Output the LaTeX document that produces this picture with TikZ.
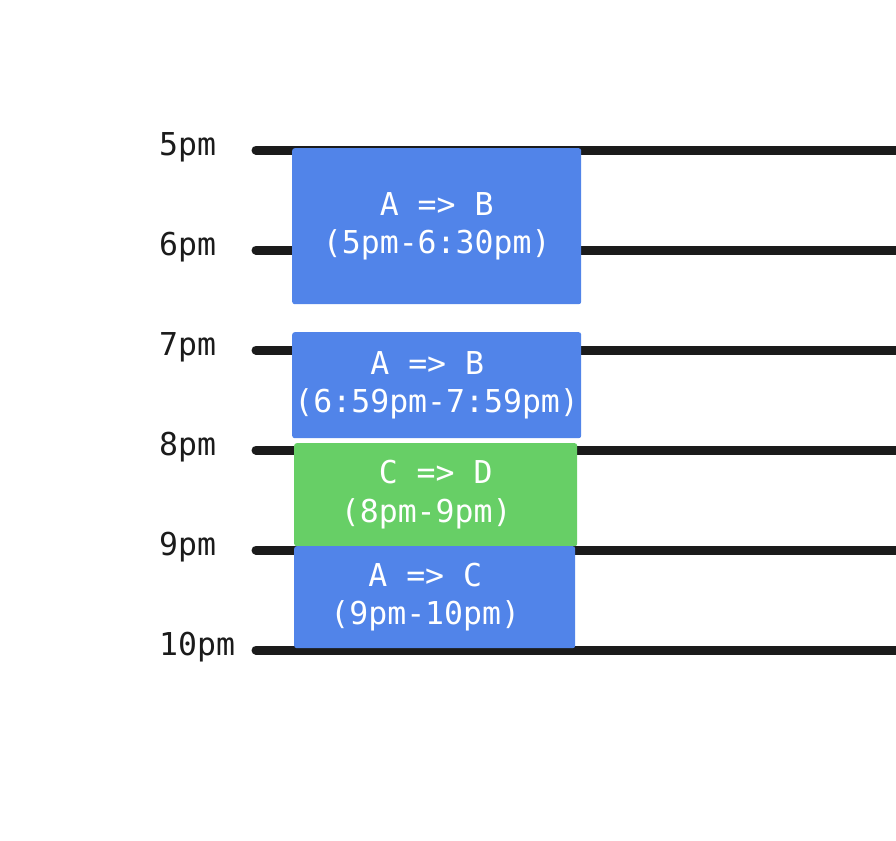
\documentclass[tikz,border=0pt]{standalone}
\usepackage{fontspec}
\usepackage{tikz}
\usetikzlibrary{positioning}
\newfontfamily\slotfont{DejaVu Sans Mono}
\definecolor{slotblue}{RGB}{81,132,233}
\definecolor{slotgreen}{RGB}{103,207,102}
\definecolor{gridline}{RGB}{27,27,27}
\tikzset{
  hourline/.style={line width=9pt, line cap=round, draw=gridline},
  hourlabel/.style={anchor=base west, text=gridline, inner sep=0pt, font=\slotfont\fontsize{31.5}{36}\selectfont},
  slot/.style={rounded corners=2.5pt, inner sep=0pt, anchor=north west, align=center, text=white, font=\slotfont\fontsize{31.5}{38.5}\selectfont},
}
\begin{document}
\begin{tikzpicture}[x=1pt,y=-1pt]
		\useasboundingbox (0,0) rectangle (896,840);
		%Hour lines with their labels
		\foreach \h/\t in {5/5pm,6/6pm,7/7pm,8/8pm,9/9pm,10/10pm}{
		\coordinate (s\h) at (256,{150+100*(\h-5)});
		\coordinate (e\h) at (900,{150+100*(\h-5)});
		\draw[hourline] (s\h)--(e\h);
		\node[hourlabel] (l\h) at (159,{155+100*(\h-5)}) {\t};
		}
		%Trips
		\node[slot, fill=slotblue, minimum width=289pt, minimum height=156pt] (ab1) at (292,148) {A => B\\(5pm-6:30pm)};
		\node[slot, fill=slotblue, minimum width=289pt, minimum height=106pt] (ab2) at (292,332) {A => B\hphantom{x}\\(6:59pm-7:59pm)};
		\node[slot, fill=slotgreen, minimum width=283pt, minimum height=103pt] (cd) at (294,443) {C => D\\(8pm-9pm)\hphantom{x}};
		\node[slot, fill=slotblue, minimum width=281pt, minimum height=102pt] (ac) at (294,546) {A => C\hphantom{x}\\(9pm-10pm)\hphantom{x}};
\end{tikzpicture}
\end{document}
